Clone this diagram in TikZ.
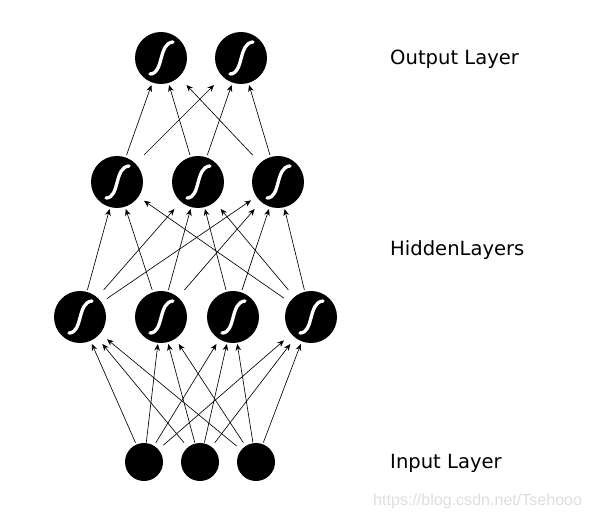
\documentclass[tikz,border=0pt]{standalone}
\usepackage{fontspec}
\setmainfont{DejaVu Sans}
\newfontfamily\markfont{Liberation Sans}
\usetikzlibrary{arrows.meta}

\begin{document}
\begin{tikzpicture}[
  x=0.03cm, y=-0.03cm,
  unit/.style={inner sep=0pt, outer sep=0pt, minimum size=1.62cm,
    path picture={
      \fill[black] (path picture bounding box.center) circle (0.78cm);
      \draw[white, line width=0.1cm, line cap=round]
        ([shift={(-11,16)}]path picture bounding box.center)
        .. controls ([shift={(3,16)}]path picture bounding box.center)
        and ([shift={(-3,-15)}]path picture bounding box.center)
        .. ([shift={(12,-16)}]path picture bounding box.center);}},
  source/.style={inner sep=0pt, outer sep=0pt, minimum size=1.16cm,
    path picture={
      \fill[black] (path picture bounding box.center) circle (0.57cm);}},
  arrow/.style={-{Stealth[length=0.2cm, width=0.17cm]}, line width=0.55pt},
  title/.style={anchor=base west, inner sep=0pt, font=\fontsize{16.7}{20}\selectfont},
  weblabel/.style={anchor=base west, inner sep=0pt, text=black!13,
    font=\markfont\fontsize{13.7}{16}\selectfont}
 ]
\useasboundingbox (0,0) rectangle (591,517);

\node[unit] (o1) at (161,58) {};
\node[unit] (o2) at (241,58) {};

\node[unit] (h1) at (117,182) {};
\node[unit] (h2) at (198,182) {};
\node[unit] (h3) at (278,182) {};

\node[unit] (g1) at (80,317) {};
\node[unit] (g2) at (161,317) {};
\node[unit] (g3) at (233,317) {};
\node[unit] (g4) at (311,317) {};

\node[source] (i1) at (144,462) {};
\node[source] (i2) at (200,462) {};
\node[source] (i3) at (256,462) {};

\node[title] (outlabel) at (390,64.5) {Output Layer};
\node[title] (hidlabel) at (390,255.5) {HiddenLayers};
\node[title] (inlabel) at (390,468) {Input Layer};
\node[weblabel] (blog) at (373,505) {https://blog.csdn.net/Tsehooo};

\draw[arrow] (h1) -- (o1);
\draw[arrow] (h1) -- (o2);
\draw[arrow] (h2) -- (o1);
\draw[arrow] (h2) -- (o2);
\draw[arrow] (h3) -- (o1);
\draw[arrow] (h3) -- (o2);

\draw[arrow] (g1) -- (h1);
\draw[arrow] (g1) -- (h2);
\draw[arrow] (g1) -- (h3);
\draw[arrow] (g2) -- (h1);
\draw[arrow] (g2) -- (h2);
\draw[arrow] (g2) -- (h3);
\draw[arrow] (g3) -- (h2);
\draw[arrow] (g3) -- (h3);
\draw[arrow] (g4) -- (h1);
\draw[arrow] (g4) -- (h2);
\draw[arrow] (g4) -- (h3);

\draw[arrow] (i1) -- (g1);
\draw[arrow] (i1) -- (g2);
\draw[arrow] (i1) -- (g3);
\draw[arrow] (i1) -- (g4);
\draw[arrow] (i2) -- (g1);
\draw[arrow] (i2) -- (g2);
\draw[arrow] (i2) -- (g3);
\draw[arrow] (i2) -- (g4);
\draw[arrow] (i3) -- (g1);
\draw[arrow] (i3) -- (g2);
\draw[arrow] (i3) -- (g3);
\draw[arrow] (i3) -- (g4);
\end{tikzpicture}
\end{document}
